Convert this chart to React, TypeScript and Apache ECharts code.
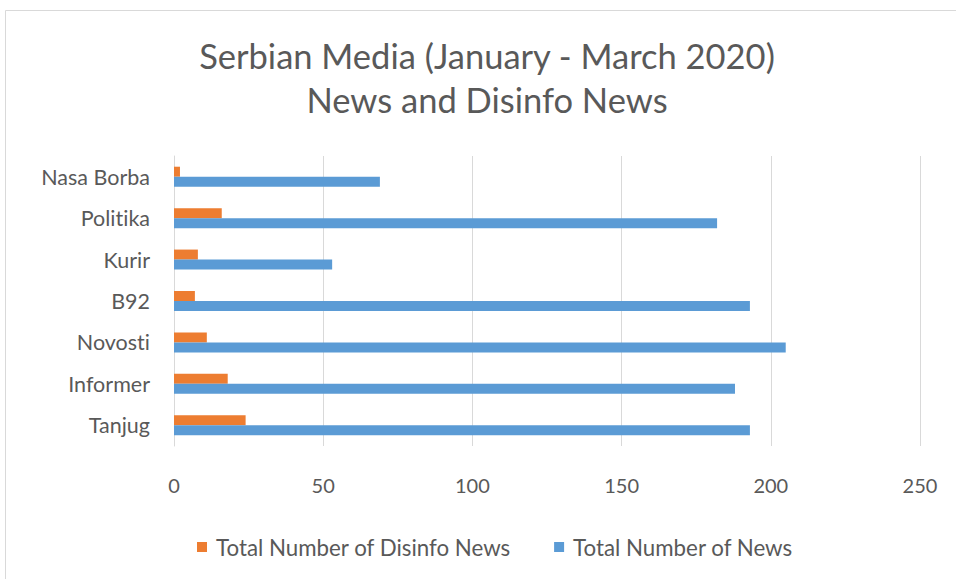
import React, { useEffect, useRef } from "react";
import * as echarts from "echarts";

const categories = ["Tanjug", "Informer", "Novosti", "B92", "Kurir", "Politika", "Nasa Borba"];
const disinfoNews = [24, 18, 11, 7, 8, 16, 2];
const totalNews = [193, 188, 205, 193, 53, 182, 69];
const xTicks = { min: 0, max: 250, interval: 50 };

const FONT = "Lato, 'Open Sans', sans-serif";
const TEXT = "#595959";

export default function App() {
  const ref = useRef<HTMLDivElement>(null);
  useEffect(() => {
    if (!ref.current) return;
    const chart = echarts.init(ref.current, null, { renderer: "svg" });
    chart.setOption({
      animation: false,
      backgroundColor: "#ffffff",
      textStyle: { fontFamily: FONT },
      graphic: [
        {
          type: "rect",
          shape: { x: 5.5, y: 10.5, width: 1000, height: 620 },
          style: { fill: "none", stroke: "#d9d9d9", lineWidth: 1 },
          silent: true,
        },
      ],
      title: {
        text: "Serbian Media (January - March 2020)\nNews and Disinfo News",
        left: 482,
        textAlign: "center",
        top: 28,
        textStyle: {
          fontFamily: FONT,
          fontSize: 34.5,
          fontWeight: "normal",
          color: TEXT,
          lineHeight: 44,
        },
      },
      legend: {
        bottom: 16,
        left: 192,
        itemWidth: 10,
        itemHeight: 10,
        itemGap: 43,
        icon: "rect",
        textStyle: { fontFamily: FONT, fontSize: 22.3, color: TEXT, padding: [0, 0, 0, 4] },
        data: ["Total Number of Disinfo News", "Total Number of News"],
      },
      grid: { left: 174, right: 36, top: 156, bottom: 133, containLabel: false },
      xAxis: {
        type: "value",
        min: xTicks.min,
        max: xTicks.max,
        interval: xTicks.interval,
        axisLine: { show: false },
        axisTick: { show: false },
        splitLine: { lineStyle: { color: "#d9d9d9", width: 1 } },
        axisLabel: { color: TEXT, fontSize: 20, margin: 29, fontFamily: FONT },
      },
      yAxis: {
        type: "category",
        data: categories,
        axisLine: { lineStyle: { color: "#d9d9d9" } },
        axisTick: { show: false },
        axisLabel: { color: TEXT, fontSize: 21.5, margin: 24, fontFamily: FONT },
      },
      series: [
        {
          name: "Total Number of Disinfo News",
          type: "bar",
          data: disinfoNews,
          barWidth: 10,
          barGap: "0%",
          itemStyle: { color: "#ED7D31" },
        },
        {
          name: "Total Number of News",
          type: "bar",
          data: totalNews,
          barWidth: 10,
          barGap: "0%",
          itemStyle: { color: "#5B9BD5" },
        },
      ],
    });
    return () => chart.dispose();
  }, []);
  return (
    <>
      <style>{"svg text { font-variant-ligatures: none; font-feature-settings: 'liga' 0; }"}</style>
      <div
        ref={ref}
        style={{ position: "fixed", left: 0, top: 0, width: 956, height: 579 }}
      />
    </>
  );
}
